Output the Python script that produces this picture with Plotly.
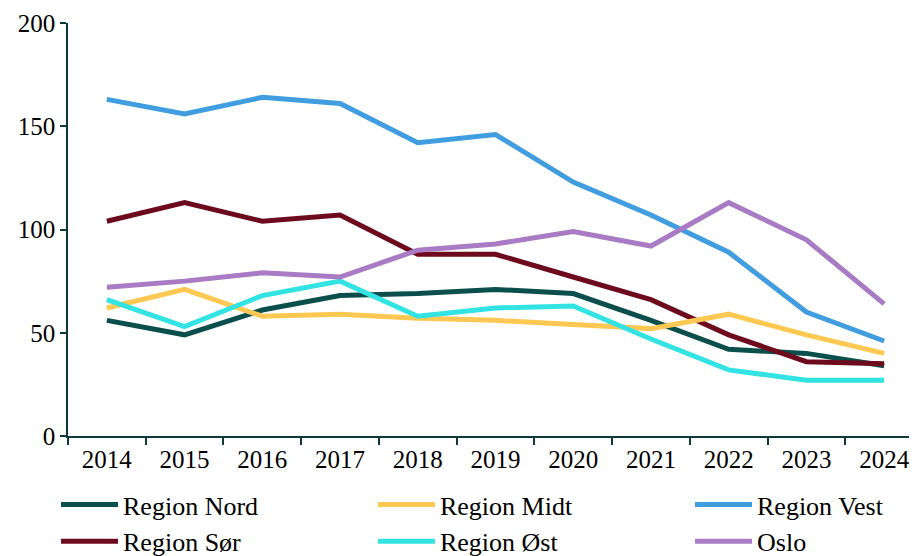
import plotly.graph_objects as go

years = ["2014", "2015", "2016", "2017", "2018", "2019", "2020", "2021", "2022", "2023", "2024"]

region_nord = [56, 49, 61, 68, 69, 71, 69, 56, 42, 40, 34]
region_midt = [62, 71, 58, 59, 57, 56, 54, 52, 59, 49, 40]
region_vest = [163, 156, 164, 161, 142, 146, 123, 107, 89, 60, 46]
region_sor = [104, 113, 104, 107, 88, 88, 77, 66, 49, 36, 35]
region_ost = [66, 53, 68, 75, 58, 62, 63, 47, 32, 27, 27]
oslo = [72, 75, 79, 77, 90, 93, 99, 92, 113, 95, 64]

series = [
    ("Region Nord", region_nord, "#0b4f4d", "legend"),
    ("Region Sør", region_sor, "#6e0a1e", "legend"),
    ("Region Midt", region_midt, "#ffc852", "legend2"),
    ("Region Øst", region_ost, "#33e3e3", "legend2"),
    ("Region Vest", region_vest, "#409ddf", "legend3"),
    ("Oslo", oslo, "#a87bc4", "legend3"),
]

fig = go.Figure()
for name, vals, color, lg in series:
    fig.add_trace(go.Scatter(x=years, y=vals, name=name, mode="lines",
                             line=dict(color=color, width=5), legend=lg))

axis_color = "#0d3b3b"
leg_common = dict(orientation="v", xanchor="left", yanchor="top", y=-0.109,
                  font=dict(size=26), bgcolor="rgba(0,0,0,0)", itemwidth=57,
                  traceorder="normal")
fig.update_layout(
    width=917, height=556,
    margin=dict(l=60, r=2, t=15, b=128, autoexpand=False),
    paper_bgcolor="white", plot_bgcolor="white",
    font=dict(family="Liberation Serif", size=25, color="black"),
    showlegend=True,
    legend=dict(x=-0.0140, **leg_common),
    legend2=dict(x=0.3567, **leg_common),
    legend3=dict(x=0.7275, **leg_common),
    xaxis=dict(type="category", showgrid=False, showline=True, linecolor=axis_color,
               linewidth=1.5, ticks="outside", tickson="boundaries", ticklen=7,
               tickcolor=axis_color, tickwidth=1.5, range=[-0.5, 10.5], zeroline=False),
    yaxis=dict(range=[0, 200], dtick=50, showgrid=False, showline=True,
               linecolor=axis_color, linewidth=1.5, ticks="outside", ticklen=6,
               tickcolor=axis_color, tickwidth=1.5, zeroline=False),
)

fig.write_html("out.html")
